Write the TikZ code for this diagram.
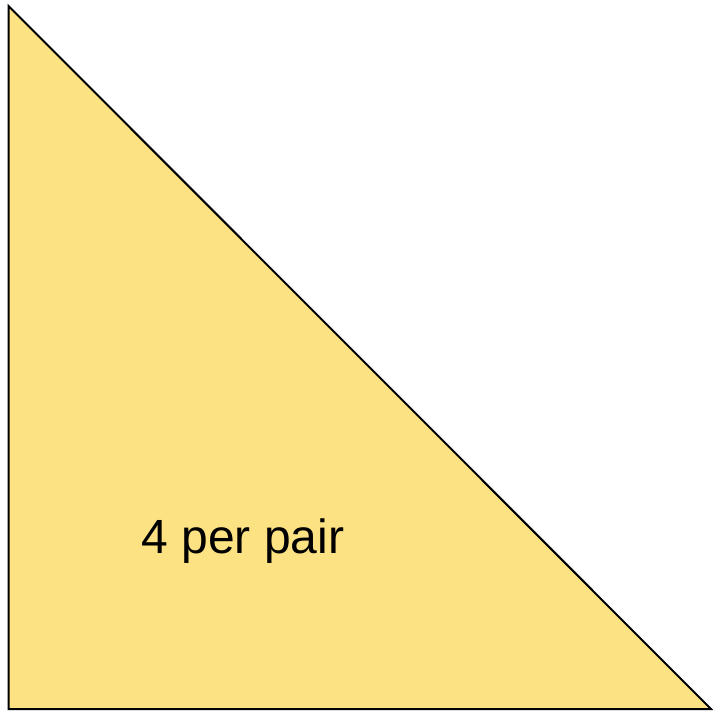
\documentclass[tikz,border=0pt]{standalone}
\usepackage{fontspec}
\setmainfont{Liberation Sans}
\definecolor{TRIyellow}{HTML}{FCE282}
\usetikzlibrary{positioning}
\begin{document}
\begin{tikzpicture}[x=0.75pt,y=-0.75pt,line join=miter]
  \useasboundingbox (0,0) rectangle (713,710);
  \coordinate (top) at (8.5,6);
  \coordinate (bl) at (8.5,709);
  \coordinate (br) at (711,709);
  \draw[line width=1.5pt,fill=TRIyellow] (top) -- (bl) -- (br) -- cycle;
  \node[anchor=base,inner sep=0pt,font=\fontsize{36}{42}\selectfont] (lbl) at (243,553) {4 per pair};
\end{tikzpicture}
\end{document}
